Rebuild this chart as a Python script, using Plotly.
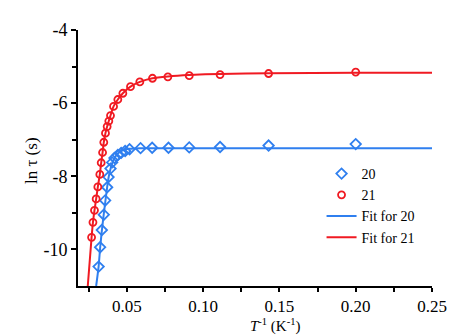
import plotly.graph_objects as go

# Data
x20 = [0.0315, 0.0325, 0.0336, 0.0349, 0.0358, 0.0371, 0.0380, 0.0393, 0.0404, 0.0419,
       0.0441, 0.0463, 0.0489, 0.0518, 0.0590, 0.0666, 0.0773, 0.0909, 0.1111, 0.1429, 0.2000]
y20 = [-10.47, -9.94, -9.47, -9.05, -8.66, -8.30, -8.02, -7.79, -7.62, -7.50,
       -7.42, -7.36, -7.31, -7.26, -7.23, -7.22, -7.22, -7.21, -7.20, -7.16, -7.12]

x21 = [0.0269, 0.0278, 0.0288, 0.0299, 0.0310, 0.0323, 0.0332, 0.0341, 0.0349, 0.0360,
       0.0371, 0.0382, 0.0393, 0.0413, 0.0441, 0.0474, 0.0524, 0.0585, 0.0668, 0.0769,
       0.0909, 0.1111, 0.1429, 0.2000]
y21 = [-9.67, -9.26, -8.93, -8.62, -8.29, -7.95, -7.63, -7.35, -7.07, -6.82,
       -6.64, -6.49, -6.34, -6.09, -5.90, -5.73, -5.55, -5.42, -5.32, -5.28,
       -5.25, -5.22, -5.19, -5.15]

fit20_x = [0.0299, 0.0315, 0.0325, 0.0336, 0.0349, 0.0360, 0.0371, 0.0382, 0.0393, 0.0404,
           0.0419, 0.0441, 0.0463, 0.0489, 0.0518, 0.0590, 0.0800, 0.2500]
fit20_y = [-11.0, -10.47, -9.96, -9.50, -9.03, -8.66, -8.30, -8.00, -7.80, -7.64,
           -7.50, -7.38, -7.31, -7.27, -7.25, -7.235, -7.23, -7.23]

fit21_x = [0.0244, 0.0269, 0.0278, 0.0288, 0.0299, 0.0310, 0.0323, 0.0332, 0.0341, 0.0349,
           0.0360, 0.0371, 0.0382, 0.0393, 0.0413, 0.0441, 0.0474, 0.0524, 0.0585, 0.0668,
           0.0769, 0.0909, 0.1111, 0.1429, 0.2000, 0.2500]
fit21_y = [-11.0, -9.67, -9.26, -8.93, -8.62, -8.29, -7.95, -7.63, -7.35, -7.07,
           -6.82, -6.64, -6.49, -6.34, -6.09, -5.90, -5.73, -5.55, -5.42, -5.32,
           -5.27, -5.23, -5.20, -5.18, -5.17, -5.17]

x_ticks = [0.05, 0.10, 0.15, 0.20, 0.25]
x_ticklabels = ["0.05", "0.10", "0.15", "0.20", "0.25"]
y_ticks = [-4, -6, -8, -10]
y_ticklabels = ["-4", "-6", "-8", "-10"]

BLUE = "#2f7fef"
RED = "#f01a22"
FONT = "'Liberation Serif', 'Times New Roman', serif"

fig = go.Figure()
fig.add_trace(go.Scatter(x=fit20_x, y=fit20_y, mode="lines", name="Fit for 20",
                         line=dict(color=BLUE, width=2, shape="spline", smoothing=0.6),
                         showlegend=False))
fig.add_trace(go.Scatter(x=fit21_x, y=fit21_y, mode="lines", name="Fit for 21",
                         line=dict(color=RED, width=2, shape="spline", smoothing=0.6),
                         showlegend=False))
fig.add_trace(go.Scatter(x=x20, y=y20, mode="markers", name="20",
                         marker=dict(symbol="diamond-open", size=8, color=BLUE,
                                     line=dict(width=1.8, color=BLUE))))
fig.add_trace(go.Scatter(x=x21, y=y21, mode="markers", name="21",
                         marker=dict(symbol="circle-open", size=7, color=RED,
                                     line=dict(width=1.8, color=RED))))
# legend-only line entries
fig.add_trace(go.Scatter(x=[None], y=[None], mode="lines", name="Fit for 20",
                         line=dict(color=BLUE, width=2)))
fig.add_trace(go.Scatter(x=[None], y=[None], mode="lines", name="Fit for 21",
                         line=dict(color=RED, width=2)))

fig.update_layout(
    width=459, height=335,
    margin=dict(l=70, r=35, t=16, b=57),
    paper_bgcolor="white", plot_bgcolor="white",
    font=dict(family=FONT, size=17, color="black"),
    legend=dict(x=0.688, y=0.50, xanchor="left", yanchor="top",
                font=dict(family=FONT, size=14), bgcolor="rgba(0,0,0,0)",
                itemwidth=30, tracegroupgap=0),
    xaxis=dict(range=[0.018, 0.25], showgrid=False, zeroline=False,
               showline=True, linecolor="black", linewidth=2,
               ticks="outside", ticklen=4, tickwidth=1.5, tickcolor="black",
               tickvals=x_ticks, ticktext=x_ticklabels,
               minor=dict(ticks="outside", ticklen=4, tickwidth=1.5, tickcolor="black",
                          tickvals=[0.025, 0.075, 0.125, 0.175, 0.225]),
               tickfont=dict(family=FONT, size=17)),
    yaxis=dict(range=[-11, -4], showgrid=False, zeroline=False,
               showline=True, linecolor="black", linewidth=2,
               ticks="outside", ticklen=5, tickwidth=1.5, tickcolor="black",
               tickvals=y_ticks, ticktext=y_ticklabels,
               minor=dict(ticks="outside", ticklen=4, tickwidth=1.5, tickcolor="black",
                          tickvals=[-5, -7, -9]),
               tickfont=dict(family=FONT, size=18)),
    annotations=[
        dict(text="<i>T</i><sup>-1</sup> (K<sup>-1</sup>)", xref="paper", yref="paper",
             x=(267 - 70) / 354, y=(278 - 318) / 262, xanchor="center", yanchor="middle",
             showarrow=False, font=dict(family=FONT, size=15)),
        dict(text="ln τ (s)", xref="paper", yref="paper", textangle=-90,
             x=(24 - 70) / 354, y=(278 - 150) / 262, xanchor="center", yanchor="middle",
             showarrow=False, font=dict(family=FONT, size=17)),
    ],
)

fig.write_html("out.html")
